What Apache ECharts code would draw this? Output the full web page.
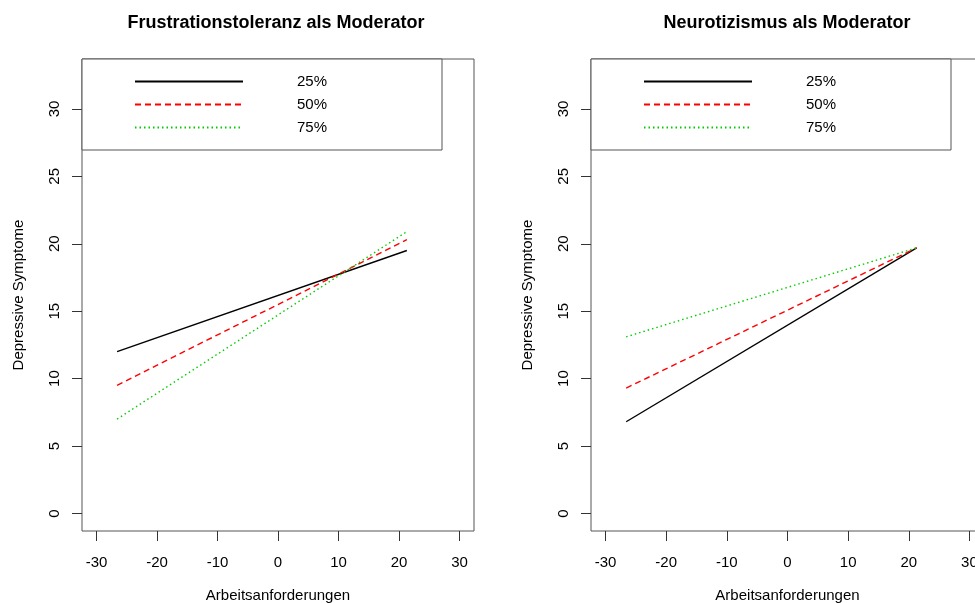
<!DOCTYPE html>
<html>
<head>
<meta charset="utf-8">
<script src="https://cdn.jsdelivr.net/npm/echarts@6/dist/echarts.min.js"></script>
<style>
  html, body { margin: 0; padding: 0; background: #fff; }
  #chart { width: 975px; height: 603px; }
</style>
</head>
<body>
<div id="chart"></div>
<script>
// Werte
const xEnds = [-26.6, 21.3]; // Arbeitsanforderungen, Anfang und Ende der Linien
const frust25 = [12.0, 19.5];
const frust50 = [9.5, 20.3];
const frust75 = [7.0, 20.9];
const neuro25 = [6.8, 19.7];
const neuro50 = [9.3, 19.7];
const neuro75 = [13.1, 19.7];
const levels = ["25%", "50%", "75%"];
const xTicks = [-30, -20, -10, 0, 10, 20, 30];
const yTicks = [0, 5, 10, 15, 20, 25, 30];

const font = "Liberation Sans, Arial, sans-serif";
const colors = ["#000000", "#ff0000", "#00cd00"];
const dashes = ["solid", [6, 4], [1.5, 3]];

function pts(ys) {
  return xEnds.map((x, i) => [x, ys[i]]);
}

function xAxis(idx) {
  return {
    type: "value", gridIndex: idx, min: -32.4, max: 32.4,
    name: "Arbeitsanforderungen", nameLocation: "middle", nameGap: 57,
    nameTextStyle: { color: "#000", fontSize: 15, fontFamily: font },
    axisLine: { show: false, onZero: false },
    splitLine: { show: false },
    axisTick: { show: true, inside: false, length: 10, customValues: xTicks, lineStyle: { color: "#333" } },
    axisLabel: { customValues: xTicks, margin: 24, color: "#000", fontSize: 15, fontFamily: font, showMinLabel: true, showMaxLabel: true },
  };
}

function yAxis(idx) {
  return {
    type: "value", gridIndex: idx, min: -1.3, max: 33.7,
    name: "Depressive Symptome", nameLocation: "middle", nameGap: 56,
    nameTextStyle: { color: "#000", fontSize: 15, fontFamily: font },
    axisLine: { show: false, onZero: false },
    splitLine: { show: false },
    axisTick: { show: true, inside: false, length: 10, customValues: yTicks, lineStyle: { color: "#333" } },
    axisLabel: { customValues: yTicks, rotate: 90, margin: 20, color: "#000", fontSize: 15, fontFamily: font, showMinLabel: true, showMaxLabel: true },
  };
}

function lines(data, idx) {
  return data.map((ys, i) => ({
    name: levels[i], type: "line", xAxisIndex: idx, yAxisIndex: idx,
    data: pts(ys), symbol: "none", silent: true, animation: false,
    lineStyle: { color: colors[i], width: 1.4, type: dashes[i] },
    itemStyle: { color: colors[i] },
  }));
}

function legend(left) {
  return {
    data: levels, orient: "vertical", left: left, top: 74, padding: 0,
    itemWidth: 108, itemHeight: 15, itemGap: 8,
    selectedMode: false,
    itemStyle: { opacity: 0, borderWidth: 0 },
    textStyle: { color: "#000", fontSize: 15, fontFamily: font, padding: [0, 0, 0, 49] },
  };
}

const chart = echarts.init(document.getElementById("chart"));
chart.setOption({
  animation: false,
  backgroundColor: "#fff",
  title: [
    { text: "Frustrationstoleranz als Moderator", left: 271, top: 9, textAlign: "center",
      textStyle: { fontSize: 18, fontWeight: "bold", color: "#000", fontFamily: font } },
    { text: "Neurotizismus als Moderator", left: 782, top: 9, textAlign: "center",
      textStyle: { fontSize: 18, fontWeight: "bold", color: "#000", fontFamily: font } },
  ],
  grid: [
    { left: 82, top: 59, width: 392, height: 472, outerBoundsMode: "none", show: true, borderColor: "#555", borderWidth: 1, backgroundColor: "transparent" },
    { left: 591, top: 59, width: 393, height: 472, outerBoundsMode: "none", show: true, borderColor: "#555", borderWidth: 1, backgroundColor: "transparent" },
  ],
  xAxis: [xAxis(0), xAxis(1)],
  yAxis: [yAxis(0), yAxis(1)],
  legend: [legend(134), legend(643)],
  graphic: [
    { type: "rect", shape: { x: 82, y: 59, width: 360, height: 91 }, style: { fill: "#fff", stroke: "#555", lineWidth: 1 }, z: 3 },
    { type: "rect", shape: { x: 591, y: 59, width: 360, height: 91 }, style: { fill: "#fff", stroke: "#555", lineWidth: 1 }, z: 3 },
  ],
  series: [...lines([frust25, frust50, frust75], 0), ...lines([neuro25, neuro50, neuro75], 1)],
});
</script>
</body>
</html>
